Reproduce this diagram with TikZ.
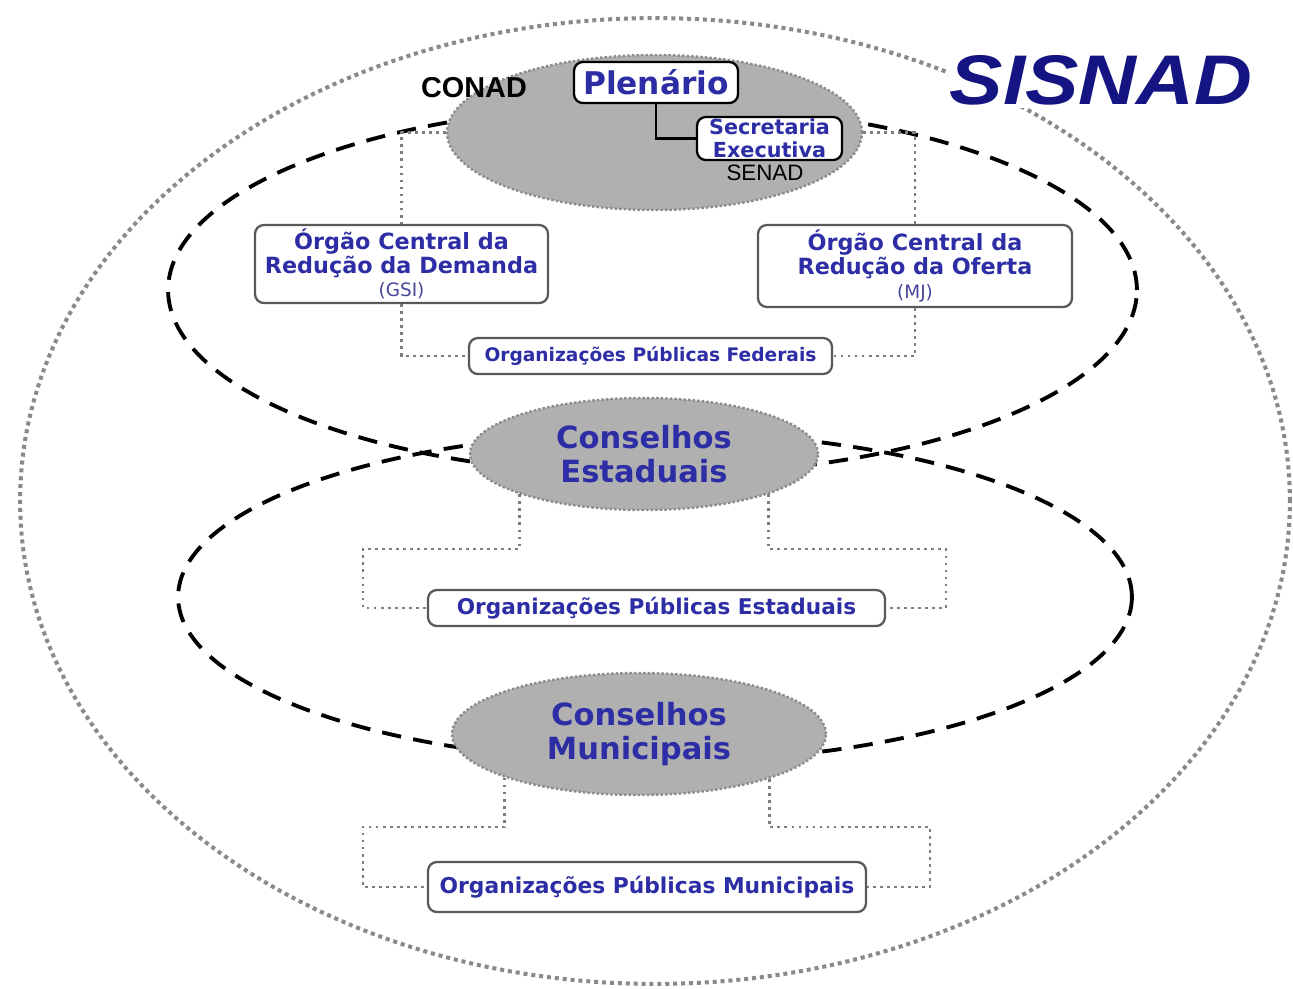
\documentclass[tikz,border=0pt]{standalone}
\usepackage{fontspec}
\usepackage{tikz}
\usepackage{xcolor}
\usetikzlibrary{shapes.geometric}
\setmainfont{DejaVu Sans}
\newfontfamily\arialfont{Liberation Sans}
\newfontfamily\logofont[FakeStretch=1.14]{Liberation Sans}

\definecolor{labelblue}{RGB}{45,45,165}
\definecolor{logoblue}{RGB}{20,20,130}
\definecolor{councilgray}{RGB}{176,176,176}
\definecolor{linegray}{RGB}{125,125,125}

\begin{document}
\begin{tikzpicture}
  [x=0.02cm,y=-0.02cm,
   box/.style={draw=black!65,line width=1.3pt,rounded corners=5pt,fill=white,
     inner sep=0pt,align=center,text=labelblue,font=\bfseries},
   council/.style={ellipse,fill=councilgray,draw=black!45,line width=1.4pt,
     dash pattern=on 1.4pt off 1.2pt,inner sep=0pt,align=center,text=labelblue},
   dotline/.style={draw=linegray,line width=1.6pt,dash pattern=on 1.6pt off 2.4pt},
   dashring/.style={draw=black,line width=2.2pt,dash pattern=on 11pt off 7pt}]

  \useasboundingbox (0,0) rectangle (1293,988);

  % outer ring and the two dashed rings
  \draw[draw=linegray!90,line width=2.3pt,dash pattern=on 2.3pt off 2.2pt]
    (655,501) ellipse [x radius=12.7cm,y radius=9.66cm];
  \draw[dashring] (652.5,290) ellipse [x radius=9.69cm,y radius=3.7cm];
  \draw[dashring] (655,597) ellipse [x radius=9.54cm,y radius=3.3cm];

  \node[fill=white,inner sep=2pt,text=logoblue,
    font=\logofont\bfseries\itshape\fontsize{40}{44}\selectfont] (sisnad) at (1101,80) {SISNAD};

  % CONAD
  \node[council,minimum width=8.3cm,minimum height=3.1cm] (conad) at (654.5,132.5) {};
  \node[font=\arialfont\bfseries\fontsize{16.4}{18}\selectfont] (conadlbl) at (474,88) {CONAD};
  \node[box,draw=black,minimum width=3.28cm,minimum height=0.82cm,
    font=\bfseries\fontsize{17.8}{20}\selectfont] (plen) at (656,82.5) {Plenário};
  \node[box,draw=black,minimum width=2.9cm,minimum height=0.86cm,
    font=\bfseries\fontsize{11.8}{13}\selectfont] (sec) at (769.5,138.5) {Secretaria\\Executiva};
  \node[font=\arialfont\fontsize{12.7}{14}\selectfont] (senad) at (765,173) {SENAD};
  \draw[line width=1.3pt] (plen.south) |- (sec.west);

  % federal level
  \node[box,minimum width=5.86cm,minimum height=1.56cm,
    font=\bfseries\fontsize{12.7}{13.5}\selectfont] (dem) at (401.5,264)
    {Órgão Central da\\Redução da Demanda\\{\mdseries\fontsize{10.5}{12}\selectfont\color{labelblue!70!gray}(GSI)}};
  \node[box,minimum width=6.28cm,minimum height=1.64cm,
    font=\bfseries\fontsize{12.7}{13.5}\selectfont] (ofe) at (915,266)
    {Órgão Central da\\Redução da Oferta\\{\mdseries\fontsize{10.5}{12}\selectfont\color{labelblue!70!gray}(MJ)}};
  \node[box,minimum width=7.26cm,minimum height=0.72cm,
    font=\bfseries\fontsize{10.6}{12}\selectfont] (fed) at (650.5,356) {Organizações Públicas Federais};

  \draw[dotline] (conad.west) -| (dem.north);
  \draw[dotline] (conad.east) -| (ofe.north);
  \draw[dotline] (dem.south) |- (fed.west);
  \draw[dotline] (ofe.south) |- (fed.east);

  % state level
  \node[council,minimum width=6.96cm,minimum height=2.24cm,
    font=\bfseries\fontsize{17.4}{19}\selectfont] (est) at (644,454) {Conselhos\\Estaduais};
  \node[box,minimum width=9.14cm,minimum height=0.72cm,
    font=\bfseries\fontsize{12.3}{13}\selectfont] (estbox) at (656.5,608) {Organizações Públicas Estaduais};
  \coordinate (estL) at (363,549);
  \coordinate (estR) at (946,549);
  \draw[dotline] (est.198) |- (estL) |- (estbox.west);
  \draw[dotline] (est.-18) |- (estR) |- (estbox.east);

  % municipal level
  \node[council,minimum width=7.48cm,minimum height=2.44cm,
    font=\bfseries\fontsize{17.4}{19}\selectfont] (mun) at (639,734) {Conselhos\\Municipais};
  \node[box,minimum width=8.76cm,minimum height=1.0cm,
    font=\bfseries\fontsize{12.4}{13}\selectfont] (munbox) at (647,887) {Organizações Públicas Municipais};
  \coordinate (munL) at (363,827);
  \coordinate (munR) at (930,827);
  \draw[dotline] (mun.198) |- (munL) |- (munbox.west);
  \draw[dotline] (mun.-19) |- (munR) |- (munbox.east);
\end{tikzpicture}
\end{document}
